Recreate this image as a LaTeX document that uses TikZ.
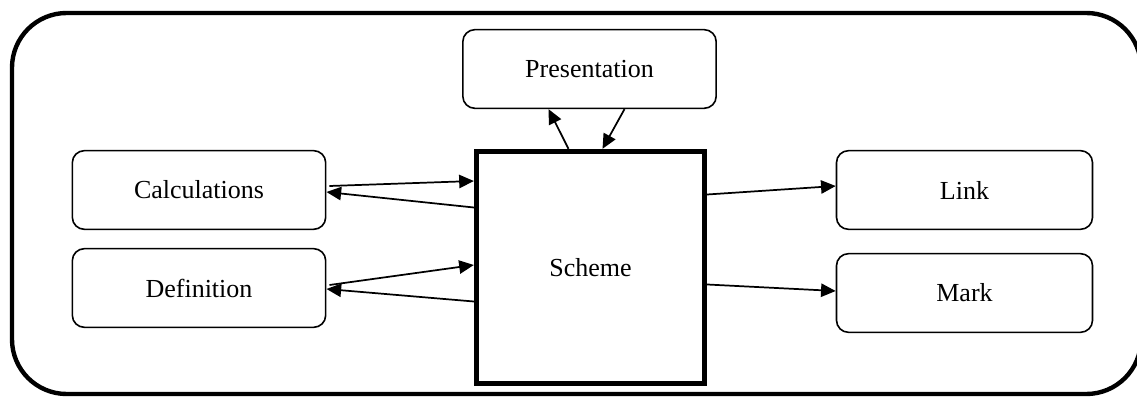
\documentclass[tikz,border=0pt]{standalone}
\usepackage{fontspec}
\setmainfont{Liberation Serif}
\usetikzlibrary{arrows.meta,calc}

\begin{document}
\begin{tikzpicture}[x=0.75pt, y=-0.75pt,
    box/.style={draw, rounded corners=9pt, line width=1.2pt, minimum width=190pt, minimum height=59pt, font=\fontsize{19.5}{23}\selectfont},
    arr/.style={-{Triangle[length=11pt, width=10pt]}, line width=1.3pt}]
    \useasboundingbox (0,0) rectangle (1137,398);
    \draw[line width=3.3pt, rounded corners=41pt] (12,13) rectangle (1141,394);

    \node[box] (pres) at (589.5, 69) {Presentation};
    \node[box, sharp corners, line width=4pt, minimum width=171pt, minimum height=174pt] (scheme) at (590.5, 267.5) {Scheme};
    \node[box] (calc) at (199, 190) {Calculations};
    \node[box] (def) at (199, 288) {Definition};
    \node[box, minimum width=192pt] (link) at (964.5, 190) {Link};
    \node[box, minimum width=192pt] (mark) at (964.5, 293) {Mark};

    \draw[arr] ($(calc.east)+(3,-4)$) -- ($(scheme.west)+(0,-86.5)$);
    \draw[arr] ($(scheme.west)+(0,-60)$) -- ($(calc.east)+(0,2)$);
    \draw[arr] ($(def.east)+(3,-3)$) -- ($(scheme.west)+(0,-2.5)$);
    \draw[arr] ($(scheme.west)+(0,34)$) -- ($(def.east)+(0,1)$);
    \draw[arr] ($(scheme.east)+(0,-73)$) -- ($(link.west)+(0,-4)$);
    \draw[arr] ($(scheme.east)+(0,17)$) -- ($(mark.west)+(0,-2)$);
    \draw[arr] ($(scheme.north)+(-22,0)$) -- ($(pres.south)+(-41,0)$);
    \draw[arr] ($(pres.south)+(35,0)$) -- ($(scheme.north)+(12,0)$);
\end{tikzpicture}
\end{document}
